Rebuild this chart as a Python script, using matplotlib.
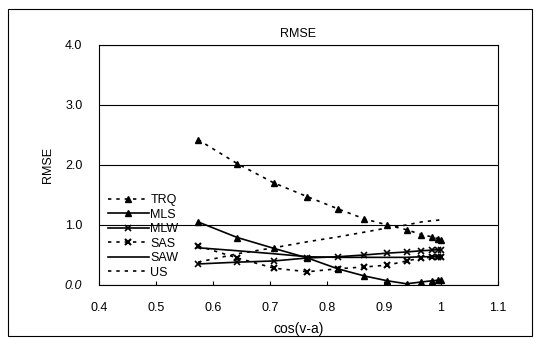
import matplotlib
matplotlib.use("Agg")
import matplotlib.pyplot as plt
from matplotlib.patches import Rectangle

plt.rcParams["font.family"] = ["Liberation Sans", "DejaVu Sans"]

# cos(v-a) sample points
x = [0.574, 0.643, 0.707, 0.766, 0.819, 0.866, 0.906, 0.940, 0.966, 0.985, 0.996, 1.0]

trq = [2.42, 2.02, 1.70, 1.47, 1.27, 1.10, 1.00, 0.92, 0.84, 0.80, 0.77, 0.75]
mls = [1.05, 0.79, 0.61, 0.45, 0.27, 0.15, 0.07, 0.02, 0.05, 0.07, 0.08, 0.08]
mlw = [0.35, 0.38, 0.40, 0.45, 0.47, 0.50, 0.53, 0.55, 0.57, 0.58, 0.59, 0.59]
sas = [0.65, 0.45, 0.28, 0.22, 0.27, 0.30, 0.33, 0.40, 0.45, 0.46, 0.47, 0.47]
saw = [0.62, 0.57, 0.52, 0.47, 0.46, 0.46, 0.46, 0.46, 0.47, 0.47, 0.47, 0.47]
us = [0.38, 0.52, 0.62, 0.72, 0.80, 0.88, 0.95, 1.00, 1.05, 1.07, 1.08, 1.10]

xticks = [0.4, 0.5, 0.6, 0.7, 0.8, 0.9, 1.0, 1.1]
xticklabels = ["0.4", "0.5", "0.6", "0.7", "0.8", "0.9", "1", "1.1"]
yticks = [0.0, 1.0, 2.0, 3.0, 4.0]
yticklabels = ["0.0", "1.0", "2.0", "3.0", "4.0"]

fig = plt.figure(figsize=(5.41, 3.45), dpi=100)
ax = fig.add_axes([0.183, 0.174, 0.737, 0.696])

dot = (0, (2, 3))
ax.plot(x, trq, color="black", lw=1.2, ls=dot, marker="^", ms=4, label="TRQ")
ax.plot(x, mls, color="black", lw=1.2, ls="-", marker="^", ms=4, label="MLS")
ax.plot(x, mlw, color="black", lw=1.2, ls="-", marker="x", ms=5, mew=1.2, label="MLW")
ax.plot(x, sas, color="black", lw=1.2, ls=dot, marker="x", ms=5, mew=1.5, label="SAS")
ax.plot(x, saw, color="black", lw=1.2, ls="-", label="SAW")
ax.plot(x, us, color="black", lw=1.2, ls=dot, label="US")

ax.set_xlim(0.4, 1.1)
ax.set_ylim(0.0, 4.0)
ax.set_xticks(xticks)
ax.set_xticklabels(xticklabels, fontsize=9)
ax.set_yticks(yticks)
ax.set_yticklabels(yticklabels, fontsize=9)
ax.get_yticklabels()[0].set_style("italic")
ax.tick_params(axis="x", direction="in", length=3, color="black", pad=12)
ax.tick_params(axis="y", length=0, pad=12)
ax.yaxis.grid(True, color="black", lw=0.8)
ax.set_axisbelow(True)
for s in ax.spines.values():
    s.set_linewidth(0.8)

ax.set_title("RMSE", fontsize=9, pad=6)
ax.set_xlabel("cos(v-a)", fontsize=10, labelpad=6)
ax.set_ylabel("RMSE", fontsize=9, labelpad=8)

ax.legend(loc="lower left", bbox_to_anchor=(0.0, -0.01), frameon=False, fontsize=9,
          handlelength=3.3, handletextpad=0.1, labelspacing=0.2, borderaxespad=0.3)

fig.patches.append(Rectangle((8 / 541, 9 / 345), 524 / 541, 327 / 345,
                             transform=fig.transFigure, fill=False, lw=0.8,
                             ec="black"))

fig.savefig("out.png", dpi=100)
plt.close(fig)
